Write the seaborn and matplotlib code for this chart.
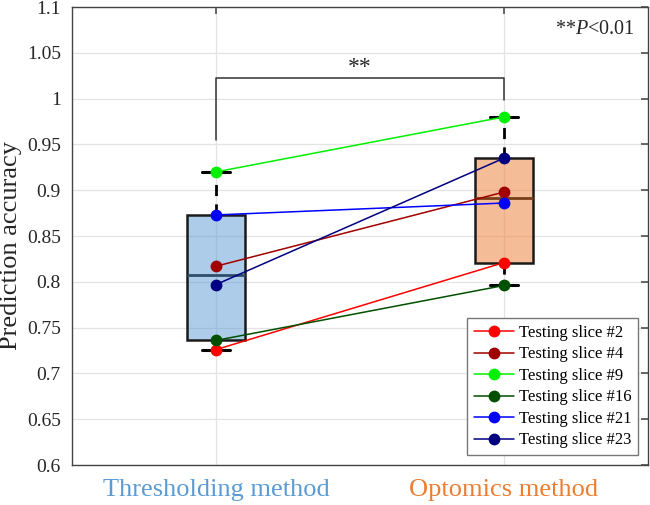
import numpy as np
import pandas as pd
import matplotlib
matplotlib.use("Agg")
import matplotlib.pyplot as plt
import seaborn as sns

# ---- data ----
methods = ["Thresholding method", "Optomics method"]
slices = ["Testing slice #2", "Testing slice #4", "Testing slice #9",
          "Testing slice #16", "Testing slice #21", "Testing slice #23"]
thresholding = [0.726, 0.817, 0.920, 0.736, 0.873, 0.797]
optomics = [0.821, 0.898, 0.980, 0.796, 0.886, 0.935]
slice_colors = ["#ff0000", "#a00000", "#00f000", "#005000", "#0000ff", "#000080"]
method_colors = ["#5b9bd5", "#ed7d31"]
yticks = [0.6, 0.65, 0.7, 0.75, 0.8, 0.85, 0.9, 0.95, 1.0, 1.05, 1.1]

sns.set_theme(style="white")
plt.rcParams["font.family"] = ["Liberation Serif", "DejaVu Serif"]
plt.rcParams["mathtext.fontset"] = "custom"
plt.rcParams["mathtext.it"] = "Liberation Serif:italic"
plt.rcParams["mathtext.rm"] = "Liberation Serif"

fig = plt.figure(figsize=(6.5, 5.05), dpi=100)
ax = fig.add_axes([72 / 650, 1 - 465 / 505, 576 / 650, 458 / 505])

positions = [1, 2]
groups = [thresholding, optomics]

# box stats (MATLAB-style quartiles)
stats = []
for vals in groups:
    v = np.asarray(vals)
    q1, med, q3 = np.percentile(v, [25, 50, 75], method="hazen")
    stats.append(dict(med=med, q1=q1, q3=q3, whislo=v.min(), whishi=v.max(), fliers=[]))

bp = ax.bxp(stats, positions=positions, widths=0.2, patch_artist=True,
            showfliers=False, manage_ticks=False, zorder=1,
            whiskerprops=dict(color="black", lw=2, linestyle=(0, (4, 3))),
            capprops=dict(color="black", lw=2.2),
            boxprops=dict(lw=1.8, edgecolor="#1a1a1a"),
            capwidths=0.1)
for patch, c in zip(bp["boxes"], method_colors):
    rgb = np.array(matplotlib.colors.to_rgb(c))
    patch.set_facecolor((*rgb, 0.5))
    patch.set_edgecolor("#1a1a1a")
for med, c in zip(bp["medians"], method_colors):
    rgb = np.array(matplotlib.colors.to_rgb(c)) * 0.5
    med.set_color(rgb)
    med.set_linewidth(2)

# paired lines and points
df = pd.DataFrame({
    "x": [1] * len(slices) + [2] * len(slices),
    "value": thresholding + optomics,
    "slice": slices + slices,
})
sns.lineplot(data=df, x="x", y="value", hue="slice", hue_order=slices,
             palette=slice_colors, estimator=None, sort=False, marker="o",
             markersize=8.5, markeredgewidth=0, lw=1.1, ax=ax, zorder=3)

# significance bracket
ax.plot([1, 1, 2, 2], [0.955, 1.022, 1.022, 0.998], color="#333333", lw=1.1, zorder=2)
ax.text(1.5, 1.034, "**", ha="center", va="center", fontsize=17)
ax.text(0.978, 0.95, r"**$P$<0.01", transform=ax.transAxes, ha="right", va="center",
        fontsize=14.5)

ax.set_xlim(0.5, 2.5)
ax.set_ylim(0.6, 1.1)
ax.set_yticks(yticks)
ax.set_yticklabels([f"{t:g}" for t in yticks])
ax.set_xticks(positions)
ax.set_xticklabels(methods)
for lbl, c in zip(ax.get_xticklabels(), method_colors):
    lbl.set_color(c)
    lbl.set_fontsize(19)
ax.tick_params(axis="y", labelsize=14, direction="in", length=5, color="#555555",
               right=True, pad=8)
ax.tick_params(axis="x", direction="in", length=5, color="#555555", top=True, pad=10)
ax.set_xlabel("")
ax.set_ylabel("Prediction accuracy", fontsize=19)
ax.yaxis.set_label_coords(-0.086, 0.48)
ax.grid(True, color="#e3e3e3", lw=0.9)
ax.set_axisbelow(True)
for s in ax.spines.values():
    s.set_color("#444444")
    s.set_linewidth(1)
    s.set_visible(True)

leg = ax.legend(loc="lower right", fontsize=12, frameon=True, fancybox=False,
                edgecolor="#777777", framealpha=1, labelspacing=0.33,
                handlelength=2.4, handletextpad=0.3, borderpad=0.4,
                borderaxespad=0.6)
leg.get_frame().set_linewidth(1)
for t in leg.get_texts():
    t.set_color("black")

fig.savefig("out.png", dpi=100)
